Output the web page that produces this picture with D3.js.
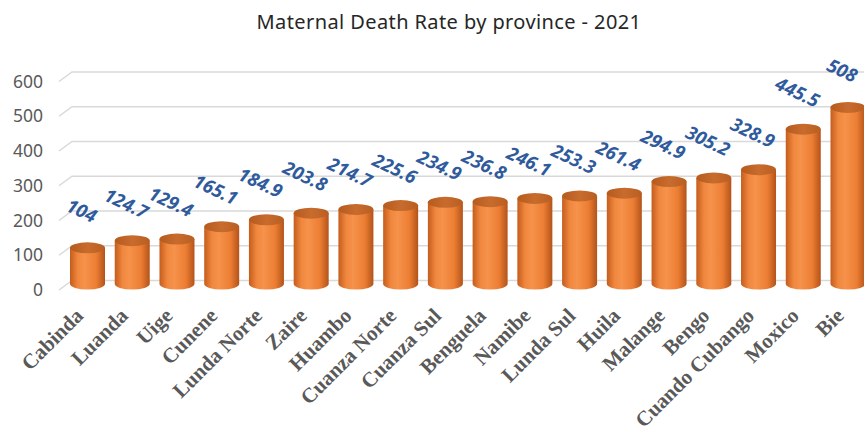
<!DOCTYPE html>
<html>
<head>
<meta charset="utf-8">
<script src="https://cdn.jsdelivr.net/npm/d3@7"></script>
<style>
  body { margin: 0; background: #fff; }
  #chart { width: 864px; height: 432px; }
</style>
</head>
<body>
<div id="chart"></div>
<script>
var provinces = ["Cabinda", "Luanda", "Uige", "Cunene", "Lunda Norte", "Zaire", "Huambo",
  "Cuanza Norte", "Cuanza Sul", "Benguela", "Namibe", "Lunda Sul", "Huila", "Malange",
  "Bengo", "Cuando Cubango", "Moxico", "Bie"];
var deathRate = [104, 124.7, 129.4, 165.1, 184.9, 203.8, 214.7, 225.6, 234.9, 236.8,
  246.1, 253.3, 261.4, 294.9, 305.2, 328.9, 445.5, 508];
var yTicks = [0, 100, 200, 300, 400, 500, 600];

var width = 864, height = 432;

var data = provinces.map(function(p, i) { return {name: p, value: deathRate[i]}; });

var svg = d3.select("#chart")
  .append("svg")
    .attr("width", width)
    .attr("height", height);

var defs = svg.append("defs");

// cylinder body shading
var bodyGrad = defs.append("linearGradient")
  .attr("id", "body")
  .attr("x1", "0%").attr("x2", "100%").attr("y1", "0%").attr("y2", "0%");
[["0%", "#C45D1D"], ["22%", "#F0873E"], ["42%", "#F6924B"], ["75%", "#EC7E33"], ["100%", "#B3531A"]]
  .forEach(function(s) { bodyGrad.append("stop").attr("offset", s[0]).attr("stop-color", s[1]); });

var topGrad = defs.append("linearGradient")
  .attr("id", "top")
  .attr("x1", "0%").attr("x2", "100%").attr("y1", "0%").attr("y2", "0%");
[["0%", "#B45B1D"], ["50%", "#C86C2E"], ["100%", "#B95E21"]]
  .forEach(function(s) { topGrad.append("stop").attr("offset", s[0]).attr("stop-color", s[1]); });

// scales
var xScale = d3.scalePoint()
  .domain(provinces)
  .range([87.5, 848]);

var yScale = d3.scaleLinear()
  .domain([0, 600])
  .range([290, 81.5]);

var depthX = 13, depthY = 9.5;   // 3D wall offset
var barR = 17.5, ellR = 5.5, barLift = 6;

// gridlines on the back wall
var grid = svg.append("g").attr("class", "grid");
grid.selectAll("path")
  .data(yTicks)
  .enter().append("path")
    .attr("fill", "none")
    .attr("stroke", "#D9D9D9")
    .attr("stroke-width", 1.5)
    .attr("d", function(d) {
      var y = yScale(d);
      return "M59," + y + "L" + (59 + depthX) + "," + (y - depthY) + "L" + width + "," + (y - depthY);
    });

// y axis labels
svg.append("g")
  .selectAll("text")
  .data(yTicks)
  .enter().append("text")
    .attr("x", 43)
    .attr("y", function(d) { return yScale(d); })
    .attr("dy", "0.35em")
    .attr("text-anchor", "end")
    .style("font-family", "'Noto Sans', sans-serif")
    .style("font-size", "17.5px")
    .style("fill", "#595959")
    .text(function(d) { return d; });

// cylinders
var bars = svg.append("g").selectAll("g")
  .data(data)
  .enter().append("g");

bars.append("path")
  .attr("fill", "url(#body)")
  .attr("d", function(d) {
    var cx = xScale(d.name),
        yt = yScale(d.value) - barLift,
        yb = yScale(0) - barLift;
    return "M" + (cx - barR) + "," + yt +
      "L" + (cx - barR) + "," + yb +
      "A" + barR + "," + ellR + " 0 0 0 " + (cx + barR) + "," + yb +
      "L" + (cx + barR) + "," + yt + "Z";
  });

bars.append("ellipse")
  .attr("cx", function(d) { return xScale(d.name); })
  .attr("cy", function(d) { return yScale(d.value) - barLift; })
  .attr("rx", barR)
  .attr("ry", ellR)
  .attr("fill", "url(#top)");

// value labels
svg.append("g")
  .selectAll("text")
  .data(data)
  .enter().append("text")
    .attr("transform", function(d) {
      return "translate(" + (xScale(d.name) - 6) + "," + (yScale(d.value) - barLift - 37) + ") rotate(25)";
    })
    .attr("text-anchor", "middle")
    .attr("dy", "0.35em")
    .style("font-family", "'Open Sans', sans-serif")
    .style("font-weight", "bold")
    .style("font-style", "italic")
    .style("font-size", "18.5px")
    .style("fill", "#2F5A9C")
    .text(function(d) { return d.value; });

// category labels
svg.append("g")
  .selectAll("text")
  .data(provinces)
  .enter().append("text")
    .attr("transform", function(d) {
      return "translate(" + (xScale(d) - 3) + ",317) rotate(-45)";
    })
    .attr("text-anchor", "end")
    .style("font-family", "'Liberation Serif', serif")
    .style("font-weight", "bold")
    .style("font-size", "21px")
    .style("fill", "#595959")
    .text(function(d) { return d; });

// title
svg.append("text")
  .attr("x", 449)
  .attr("y", 29)
  .attr("text-anchor", "middle")
  .style("font-family", "'Noto Sans', sans-serif")
  .style("font-size", "20px")
  .style("letter-spacing", "0.4px")
  .style("fill", "#262626")
  .text("Maternal Death Rate by province - 2021");
</script>
</body>
</html>
